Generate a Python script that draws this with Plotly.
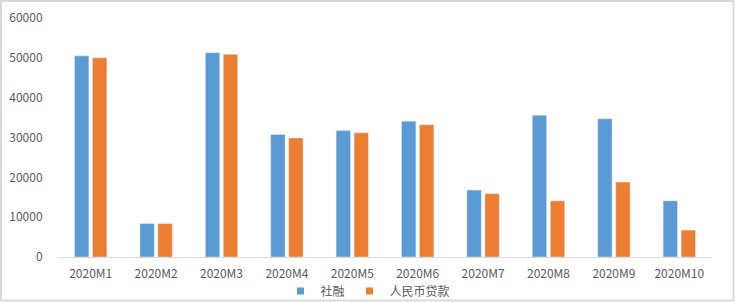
import plotly.graph_objects as go

categories = ["2020M1", "2020M2", "2020M3", "2020M4", "2020M5",
              "2020M6", "2020M7", "2020M8", "2020M9", "2020M10"]
shehui = [50500, 8400, 51300, 30750, 31750, 34100, 16800, 35600, 34700, 14100]
loans = [50000, 8400, 50900, 29900, 31200, 33200, 15900, 14100, 18800, 6750]
series_names = ["社融", "人民币贷款"]
colors = ["#5B9BD5", "#ED7D31"]
y_ticks = [0, 10000, 20000, 30000, 40000, 50000, 60000]

W, H = 735, 302
L, R, T, B = 58, 23, 18, 45
pw, ph = W - L - R, H - T - B

def px(p):
    return (p - L) / pw

def py(q):
    return (H - B - q) / ph

font_family = "Noto Sans CJK SC, Open Sans, sans-serif"
gray = "#595959"

fig = go.Figure()
for name, vals, col in zip(series_names, [shehui, loans], colors):
    fig.add_trace(go.Bar(x=categories, y=vals, name=name, marker_color=col,
                         showlegend=False))
# legend entries with small square symbols
for name, col in zip(series_names, colors):
    fig.add_trace(go.Scatter(x=[None], y=[None], mode="markers", name=name,
                             marker=dict(symbol="square", size=7, color=col),
                             showlegend=True, hoverinfo="skip"))

fig.update_layout(
    width=W, height=H,
    margin=dict(l=L, r=R, t=T, b=B, autoexpand=False),
    paper_bgcolor="white", plot_bgcolor="white",
    barmode="group", bargap=0.45, bargroupgap=0.2,
    font=dict(family=font_family, size=12, color=gray),
    showlegend=True,
    legend=dict(orientation="h", x=px(368), xanchor="center",
                yref="container", y=1 - 291 / H, yanchor="middle",
                font=dict(size=12, color=gray), itemwidth=30, tracegroupgap=0,
                bgcolor="rgba(0,0,0,0)"),
    xaxis=dict(showgrid=False, showline=True, linecolor="#D9D9D9", linewidth=1,
               ticks="outside", ticklen=6, tickcolor="rgba(0,0,0,0)",
               tickfont=dict(size=12, color=gray)),
    yaxis=dict(range=[0, 60000], tickvals=y_ticks, showgrid=False, zeroline=False,
               showline=False, ticks="outside", ticklen=12,
               tickcolor="rgba(0,0,0,0)", tickfont=dict(size=12, color=gray),
               tickformat="d"),
    shapes=[dict(type="rect", xref="paper", yref="paper",
                 x0=px(1), x1=px(733.5), y0=py(300.5), y1=py(1),
                 line=dict(color="#D9D9D9", width=2), layer="below")],
)

fig.write_html("out.html")
